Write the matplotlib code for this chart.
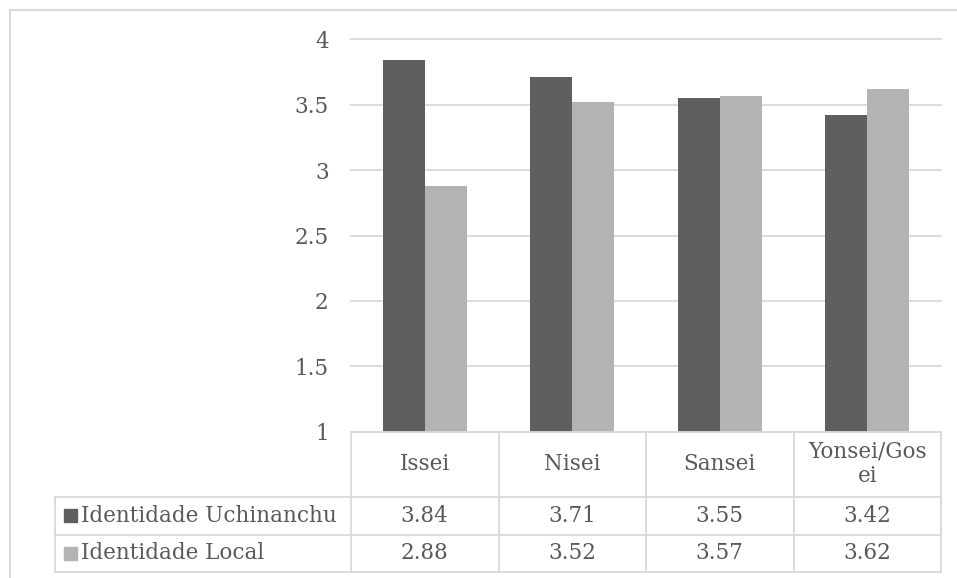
import numpy as np
import matplotlib.pyplot as plt
from matplotlib.lines import Line2D
from matplotlib.patches import Rectangle
import matplotlib.transforms as mtransforms

categories = ['Issei', 'Nisei', 'Sansei', 'Yonsei/Gos\nei']
series_names = ['Identidade Uchinanchu', 'Identidade Local']
uchinanchu = [3.84, 3.71, 3.55, 3.42]
local = [2.88, 3.52, 3.57, 3.62]
yticks = [1, 1.5, 2, 2.5, 3, 3.5, 4]

dark = '#5f5f5f'
light = '#b3b3b3'
grid_c = '#d9d9d9'
txt_c = '#595959'
fs = 15.5

plt.rcParams['font.family'] = ['DejaVu Serif']

W, H = 957, 578
fig = plt.figure(figsize=(W / 100, H / 100), dpi=100)

def fx(px):
    return px / W

def fy(py):
    return 1 - py / H

ax_l, ax_r, ax_t, ax_b = 351, 941, 39.3, 431.7
ax = fig.add_axes([fx(ax_l), fy(ax_b), fx(ax_r - ax_l), (ax_b - ax_t) / H])

x = np.arange(len(categories))
bw = 0.285
ax.bar(x - bw / 2, uchinanchu, bw, bottom=0, color=dark, zorder=3)
ax.bar(x + bw / 2, local, bw, bottom=0, color=light, zorder=3)
ax.set_xlim(-0.5, len(categories) - 0.5)
ax.set_ylim(1, 4)
ax.set_yticks(yticks)
ax.set_yticklabels(['%g' % v for v in yticks], fontsize=fs, color=txt_c)
ax.tick_params(axis='y', length=0, pad=16)
ax.set_xticks([])
for s in ax.spines.values():
    s.set_visible(False)
for v in yticks[1:]:
    ax.axhline(v, color=grid_c, lw=1.3, zorder=1, clip_on=False)

# data table under the plot
tr = mtransforms.blended_transform_factory(ax.transData, fig.transFigure)
rows_px = [431.7, 496.7, 534.5, 572.0]
tbl_left = 55
lw = 1.3

def hline(x0, x1, py):
    fig.add_artist(Line2D([fx(x0), fx(x1)], [fy(py), fy(py)], color=grid_c, lw=lw))

hline(ax_l, ax_r, rows_px[0])
for py in rows_px[1:]:
    hline(tbl_left, ax_r, py)
fig.add_artist(Line2D([fx(tbl_left)] * 2, [fy(rows_px[1]), fy(rows_px[3])], color=grid_c, lw=lw))
for b in np.arange(len(categories) + 1) - 0.5:
    fig.add_artist(Line2D([b, b], [fy(rows_px[0]), fy(rows_px[3])], color=grid_c, lw=lw, transform=tr))

for i, c in enumerate(categories):
    fig.text(x[i], fy((rows_px[0] + rows_px[1]) / 2), c, transform=tr, ha='center', va='center',
             fontsize=fs, color=txt_c, linespacing=1.15)
for r, (name, vals, col) in enumerate(zip(series_names, [uchinanchu, local], [dark, light])):
    yc = fy((rows_px[r + 1] + rows_px[r + 2]) / 2)
    for i, v in enumerate(vals):
        fig.text(x[i], yc, '%.2f' % v, transform=tr, ha='center', va='center', fontsize=fs, color=txt_c)
    fig.add_artist(Rectangle((fx(64), yc - 6.5 / H), 13 / W, 13 / H, color=col, transform=fig.transFigure))
    fig.text(fx(81), yc, name, ha='left', va='center', fontsize=fs, color=txt_c)

# outer chart border
fig.add_artist(Line2D([fx(10), fx(10), fx(W + 5)], [fy(H + 5), fy(10), fy(10)], color=grid_c, lw=1.5))

fig.savefig('out.png', dpi=100)
